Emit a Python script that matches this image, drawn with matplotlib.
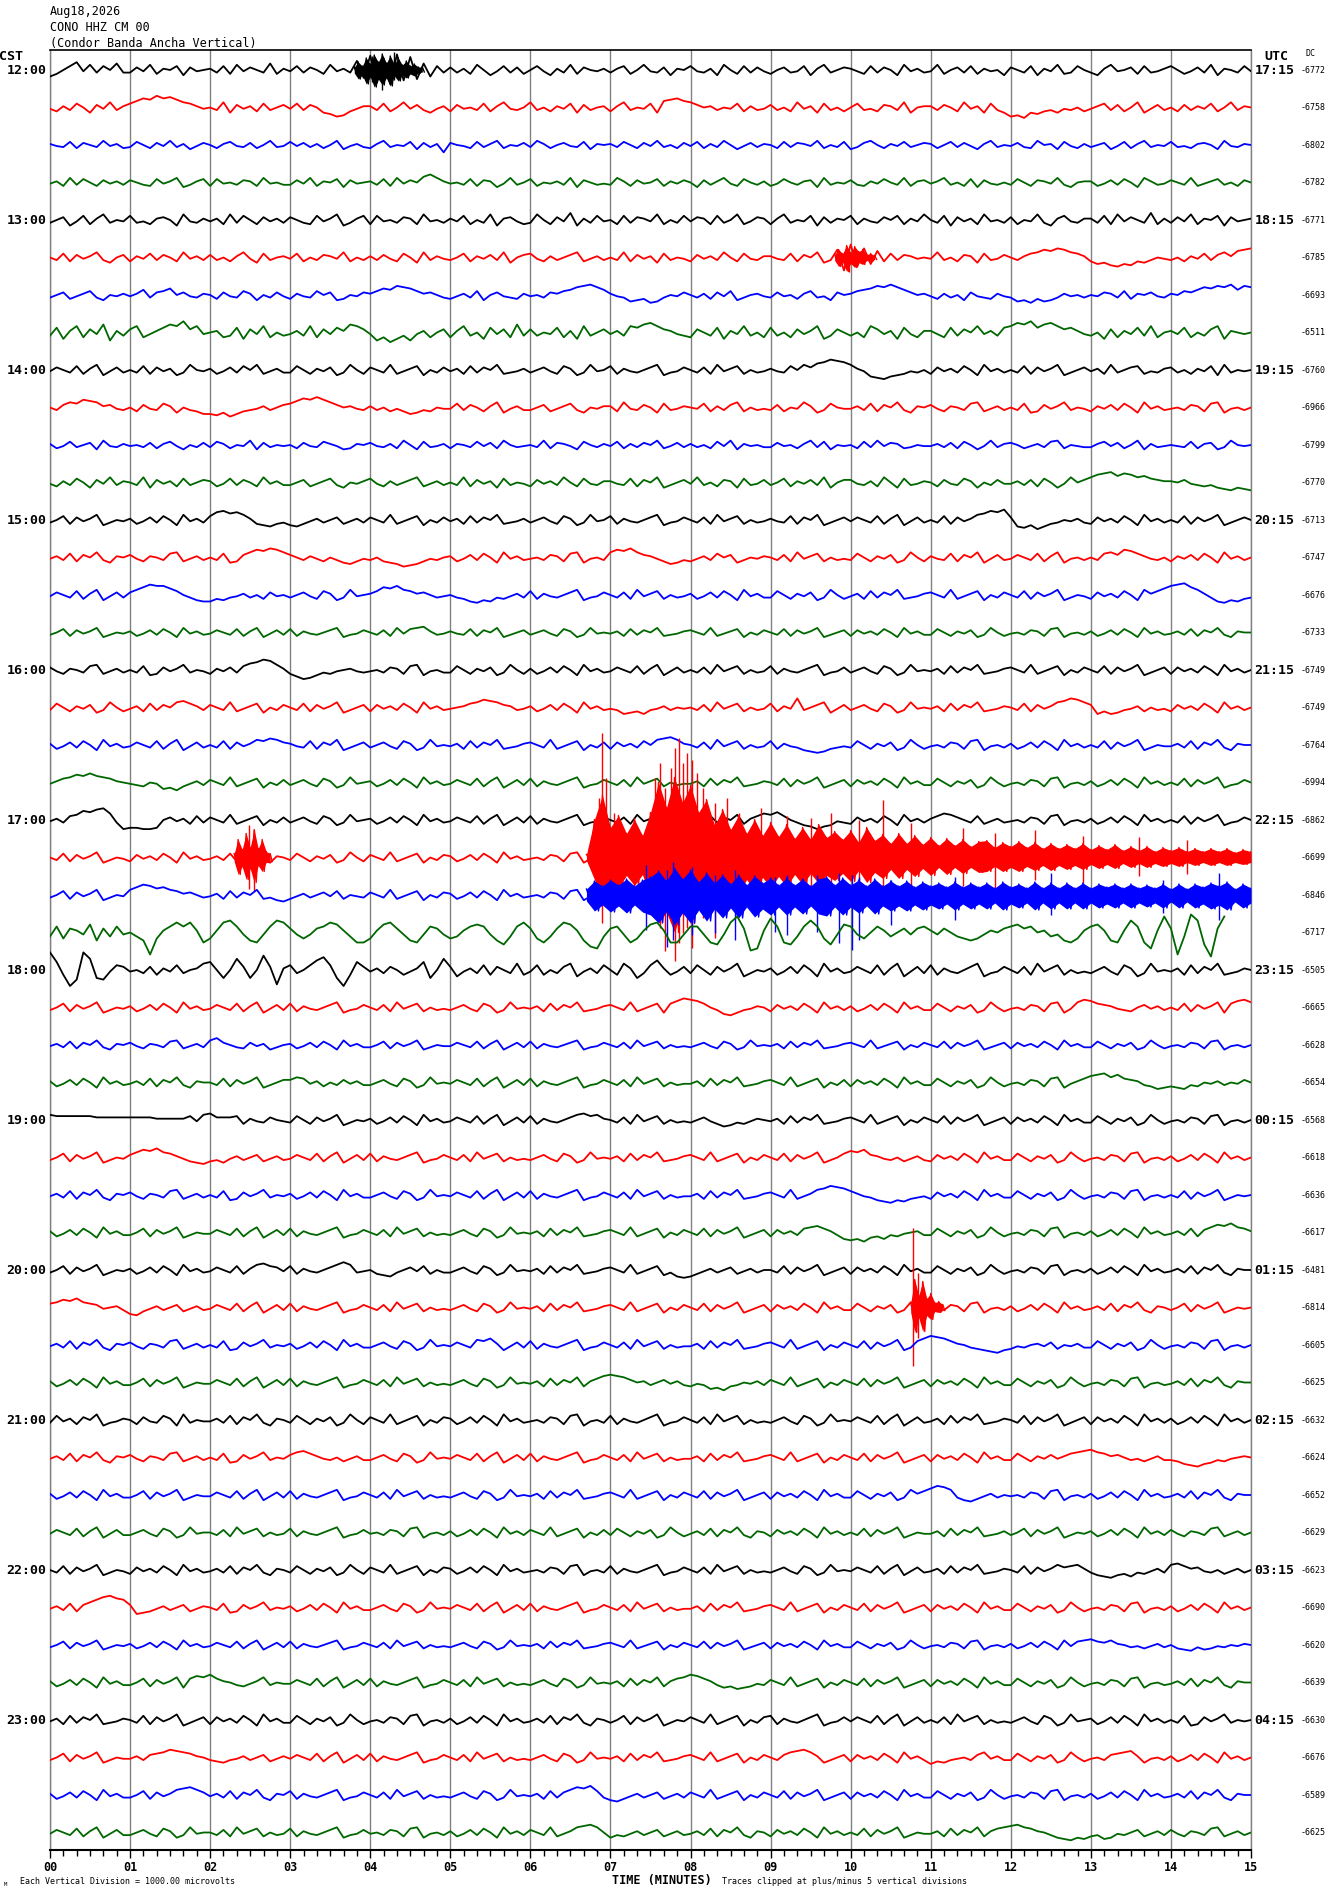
import numpy as np
import matplotlib
matplotlib.use("Agg")
import matplotlib.pyplot as plt
import matplotlib.transforms as mtransforms
from matplotlib.ticker import MultipleLocator

# ---- data ----
HEADER = ["Aug18,2026", "CONO HHZ CM 00", "(Condor Banda Ancha Vertical)"]
CST_LABELS = ["12:00", "13:00", "14:00", "15:00", "16:00", "17:00",
              "18:00", "19:00", "20:00", "21:00", "22:00", "23:00"]
UTC_LABELS = ["17:15", "18:15", "19:15", "20:15", "21:15", "22:15",
              "23:15", "00:15", "01:15", "02:15", "03:15", "04:15"]
DC_VALUES = [-6772, -6758, -6802, -6782, -6771, -6785, -6693, -6511,
             -6760, -6966, -6799, -6770, -6713, -6747, -6676, -6733,
             -6749, -6749, -6764, -6994, -6862, -6699, -6846, -6717,
             -6505, -6665, -6628, -6654, -6568, -6618, -6636, -6617,
             -6481, -6814, -6605, -6625, -6632, -6624, -6652, -6629,
             -6623, -6690, -6620, -6639, -6630, -6676, -6589, -6625]
MINUTES = list(range(16))
TRACE_COLORS = ["#000000", "#ff0000", "#0000ff", "#006600"]

# one letter per 5 s sample, 'm' = baseline, one letter step = TRACE_SCALE px (upward positive)
TRACES = [
    "hjmpslqkpmrk kolqjnmpiolm nkpjqlomkrjn lpkomjqlnktg xcvbyewfrhpk oknjqmilpkoj mplinkqjomln knpjmqlkoinm plkniqmjpkol jmoklpinqkmo nljpkomiqlnk lqjmokpjnlmi omkpinlqjkpm kinqlmojpkln pmjlokqinmkp l",
    "ljnkpmiolqkn prtsvtusqpnl mkqiolnjpkmo lpkomihfgjln nkpjmqlokiln jolmkpjnqlkm qkmjnlpiokmn jnqkmlpirstr qomnkmlpjnkl okmjqlnipkmj mpkljonkqimn nkomjqlnipki fgeihjkilkmj lnpkojmqilok mjoknlpjmqkn m",
    "nlkpjomkqlnj kpmjolqknilo mjnplkojmqkl ploknjmqilnk jnqkmlpioknf omljpknqjmlo kqnjmolkpinm nkpmjolqkmjo lpjnkqmilokn mjpkonlqjmkp ikoqmjnlpkmo njmpkolinqkm lokjqmnipljn kmoilpjnqkml pkljnomiqlkn m",
    "lnjqkpmjolnk omkjplnqiknp jplmkonjqlmk kolqjnmpiolm nkpjqlomrtqn lmkpjonilqkm pjmlnkqiomkl kqnjolmpjnlo mioknqljpmkn jlpmknoiqkml okjnlpmkqjno lnqkmjpiolkm kpmjonlqkimn njlokpmiqnkl omkqjlnpkmjo m",
    "kmoilpjnqkml pkljnomiqlkn lnjqkpmjolnk omkjplnqiknp jplmkonjqlmk nlpjmkqinolj kqmjolrinkpl mjpkonlqjmkp lonjpkmqjlon jnqkmlpioknm pjnlkompjnlq mkpiolnjqlmk ojmlqkinplkn nkpjqlomkrjn kolqjnmpiolm n",
    "mkpjolnqkimo jnlpkomjqlnk okmjnqlipkmn lpjmkonlqjmk nkoljpmiqknl kmpjnlokqimo pljnkmoqjlnk mkqjolnipkml jolnkqmjplkn nlkpjomqiksc wfthrjpkonlm lqkmjonipklo mknpqsrtsqpn jhigfhgjikml kmjnlpkoqnrs t",
    "kmojlnpkimln lnqkoprmolkn mjolkpnimkol jnlkpmoijmlo nprqtsrpnomk jlnkpimolkjn lmkonpqstusq nlkhijghkmlo mknjolpikmnl kolmjnpkliom npqrtsusqomn ljnkmiolkjnl khigjhiknlmk mlonkpjnmolk nmpoqsrtsuqt s",
    "kpinqjolrhnk oqjlnprqtoql mnjkpiolqjmk lnkqjolpnrqo lhjgikhlnjmo jnqkmiplojrk okmlpjniqkmo lnkqprsqonlk jomkpinlqkmj pkmjolnqikom kmjqolnipljn nljpkomqlnkp qsrtprsqopnl kmiojnlpkqjm nlpjmkoqinml m",
    "lomkpjnqilok mkpjolnikqml njlokpmqjlnk kpmjnloikqmj omkqjlnpimko lnjpkomqjkln kmoljpnikqlm pjnlkmoqiklo mkojqlnpjmkl nlkpmqorsuts qnlhgfhijlkm jolnkpmiqlnk mkpjolnqikmo lnjqkmopjlkn okmjnlpiqkml m",
    "mkoqpsrqnolk mjolkpnimkjh hgifhjklnkmo prtsusqomnlk nkmjljhikjml lpkomjnqilnk kmojlnpkimln njqlkomipkln mlpjnkoqjmkl kojmlqnikpml lnkpjomqkinm oljnmkpqjlnk mkpijolnqkml jnlokpmiqlnk lmkonjpqilmk m",
    "njlpkmoiqlkn lmkojnplimko kpnjmlqiokml mjolkpnlijnm olknjqmipkln jnmkplojqmkl mkqjonlipmkn lpjnkomqjlok nkmjplqinlmk kolmjnqkpiml mjpkqlonjkml lnkojpmilqkn omjlnkpqjmlk knplojmqinkl mlkpjnoikqml m",
    "ljnkpmiolqkn mkqiolnjpkmo njlpkomjqlnk kmojlnpkimln pljnkmoqjlnk mkqjolnipkml jolnkqmjplkn nlkpjomqikmo lqkmjonipklo kmpjnlokqimo olknjqmipkln mjolkpnimkol lnkojpmilqmo qsturtsqrpon nmolkjkihgih g",
    "kmpjolnqikml njlokpmiqlnk pstrsqnjihjk ihjlnkmojlnk omkqjlnpimko lnjpkomqjkln kmoljpnikqlm pjnlkmoqiklo mkojqlnpjmkl nlkpjomqikmo lomkpjnqilok mkpjolnqrtsu ohgifhjkmlnk jolnkpmiqlnk mkpjolnqikmo m",
    "lnkpjomqkinm oljnmkpqjlnk mkpijoqsrtsq omknljmkihjl kmjihfghjlkm njlokpmiqlnk lmkonjpqilmk qsrtqonljhik jlnkpmoikmln mkojqlnpjmkl kpmjnloikqmj nlkpjomqilok lomkpjnqilmk mkpqosrpnlkm jnlokpmiqlnk m",
    "lomkpjnqilok oqsuttrpmkih hjiklnkmjolm kmoljpnikqlm npsrtqpnomkl mkjhgihkjlnk pjnlkmoqiklo mkojqlnpjmkl njlokpmiqlnk kpmjnloikqmj lnjpkomqjkln omkqjlnpimko mkpjolnqikml jolnkpmiqnpr tuvsqnkhgihj k",
    "kmpjolnqikml njlokpmiqlnk lomkpjnqilok pjnlkmoqiklo mkojqlpqrnkl nlkpjomqikmo kmoljpnikqlm lnjpkomqjkln omkqjlnpimko mkpjolnqikmo jolnkpmiqlnk kpmjnloikqmj lmkonjpqilmk njlokpmiqlnk lnkpjomqkinm m",
    "oljnmkpqjlnk mkpijolnqkml jnlokprsutqn jhfgikjlmnlk lmkonjpqilmk kpmjnloikqmj njlokpmiqlnk lomkpjnqilok mkojqlnpjmkl pjnlkmoqiklo kmoljpnikqlm lnjpkomqjkln omkqjlnpimko mkpjolnqikmo jolnkpmiqlnk m",
    "kpmjnloikqmj lnjpkomqrpnk omkqjlnpimko mkpjolnqikmo jolnkpmiqlnk lmnpqsrqonkl njlokpmiqlnk lkhijhklnkml mkojqlnpjmkl pjnltkmoqilo kmoljpnikqlm lnjpkomqjkln mkpjolnqrtsq ohjhiklnjmkl jolnkpmiqlnk m",
    "njlokpmiqlnk lomkpjnqilok mkpjolnqprqo nlkpjomqikmo kmoljpnikqlm lnjpkomqjkln omkqjlnpimko jolnkpmqrsqn mkojqlnpjmkl pjnlkihghjkl kpmjnloikqmj lmkonjpqilmk njlokpmiqlnk mkpjolnqikml lnkpjomqkinm m",
    "lnpqsrtrqpnm lkjmlhigjlnk omkqjlnpimko kmoljpnikqlm njlokpmiqlnk lomkpjnqilok pjnlkmoqiklo mkojqlnpjmkl lnjpkomqjkln mkpjolnqikmo jolnkpmiqlnk kpmjnloikqmj lmkonjpqilmk njlokpmiqlnk mkpjolnqiklo m",
    "lnkpqtsuvrkf ggffgmolnjpk omkqjlnpimko kmoljpnikqlm njlokpmiqlnk lomkpjnqilok pjnlkmoqiklo mkojqlnpjmkl lnjpkomqjnpr qspmkihfhilk jolnkpmiqlnk nprqomkpjlnk lmkonjpqilmk njlokpmiqlnk mkpjolnqiklo m",
    "mkpjolnqikml jolnkpmiqlnk lnkpjomqkinm kpmjnloikqmj omkqjlnpimko njlokpmiqlnk lmkonjpqilmk pjnlkmoqiklo mkojqlnpjmkl kmoljpnikqlm lomkpjnqilok lnjpkomqjkln mkpjolnqikmo jolnkpmiqlnk njlokpmiqlnk m",
    "kmpjolnqikml qsutrsqpnomk lnjpkomqjkih jlnkmolpjmlk omkqjlnpimko njlokpmiqlnk lmkonjpqilmk pjnlkmoqiklo mkojqlnpjmkl kmoljpnikqlm lomkpjnqilok lnjpkomqjkln mkpjolnqikmo jolnkpmiqlnk njlokpmiqkjh i",
    "kpjonlqiokpl mkibjnprprnh jnrsplihlpsr oljloprqnkhh jnqrolihlpol jknpqpligkpr ojhkorqnifek oplhjnqrnhhl pplhglruoden tphgkpspjglq pljmpnkmolop nlomkjijlnmo pqopmnklihjn pqnihnsphenu obkvsgaou",
    "xrjcgxthglpo lmkojnlpkmnq rmhmtohmvodn pkmpsuphcjro lnkomjlnrhmt oilnkpjomkqj lpjmkoqilnkp mjqnhkpsnjlo kpmjolnqikml njlokpmiqlnk lomkpjnqilok pjnlkmoqiklo mkojqlnpjmkl kmoljpnikqlm lnjpkomqjkln m",
    "kmpjolnqikml njlokpmiqlnk lomkpjnqilok pjnlkmoqiklo mkojqlnpjmkl kmoljpnikqlm lnjpkomqjkln omkqjlnpiprt srpmkhgiklnm jolnkpmiqlnk njlokpmiqlnk kpmjnloikqmj lmkonjpqilqs rponlkjmolnk mkpjolnqiprs q",
    "lnkpjomqkinm oljnmkpqjlnk qsomkjolnikm njlokpmiqlnk kmpjolnqikml lomkpjnqilok pjnlkmoqiklo mkojqlnpjmkl kmoljpnikqlm lnjpkomqjkln omkqjlnpimko mkpjolnqikmo jolnkpmiqlnk kpmjnloikqmj lmkonjpqilmk m",
    "njlokpmiqlnk lnkpjomqkinm mkpjolnqikmo oqplnjmkolnk kmoljpnikqlm lomkpjnqilok pjnlkmoqiklo mkojqlnpjmkl lnjpkomqjkln omkqjlnpimko jolnkpmiqlnk kpmjnloikqmj lmkonjpqilnp rstqsponkjhi jihkjmlnkmlo m",
    "qppppppooooo oooonnnnnplq rooopjnlkoml kpmjolnqikml njlokpmiqlnk lomkpjnqilok pjnlkmoqrpqn mkojqlnpjmkl kmoljhikjlnm lnjpkomqjkln omkqjlnpimko mkpjolnqikmo jolnkpmiqlnk kpmjnloikqmj lmkonjpqilmk m",
    "kmpjolnqikml oqsrtqpnljih jkilnkmojlnk lomkpjnqilok pjnlkmoqiklo mkojqlnpjmkl kmoljpnikqlm lnjpkomqjkln omkqjlnpimko mkpjolnqikmp rqsonlkmjlnk jolnkpmiqlnk kpmjnloikqmj lmkonjpqilmk njlokpmiqlnk m",
    "lnkpjomqkinm oljnmkpqjlnk mkpijolnqkml njlokpmiqlnk kmoljpnikqlm lomkpjnqilok pjnlkmoqiklo mkojqlnpjmkl lnjpkomqjkln omkqjlnqrtsr pnlkihgihjkl jolnkpmiqlnk kpmjnloikqmj lmkonjpqilmk mkpjolnqikml m",
    "njlokpmiqlnk kmpjolnqikml lomkpjnqilok pjnlkmoqiklo mkojqlnpjmkl kmoljpnikqlm lnjpkomqjkln omkqjlnpimko mkpjolnqikmo jolnkpqrpnkh ghfijhkjlmnk kpmjnloikqmj lmkonjpqilmk njlokpmiqlnk lnkpjoqsrtqp n",
    "kmpjolnqikml njlokpmiqlnk lomkpjnqrpol pjnlkmoqsqkl mjihkmolpjmk kmoljpnikqlm lnjpkomqjkln omkqjlnpikhg hjlnkmojlnkm mkpjolnqikmo jolnkpmiqlnk kpmjnloikqmj lmkonjpqilmk njlokpmiqlnk lnkpjomqkinm m",
    "pqsrtqpolmnk hgjlnkmojlnk lomkpjnqilok pjnlkmoqiklo mkojqlnpjmkl kmoljpnikqlm lnjpkomqjkln omkqjlnpimko mkpjolnqikmo jolnkpmiqlnk kpmjnloikqmj lmkonjpqilmk njlokpmiqlnk lnkpjomqkinm kmpjolnqikml m",
    "lnkpjomqkinm oljnmkpqjlnk mkpijolnqkml njlokpmiqlnk kmoljpnikqlm lomkqprnilok pjnlkmoqiklo mkojqlnpjmkl lnjpkomqjkln omkqjlnpimko mkpjolnqikpr tsrpnmkjihgi jlkmnlojmlnk kpmjnloikqmj lmkonjpqilmk m",
    "njlokpmiqlnk kmpjolnqikml lomkpjnqilok pjnlkmoqiklo mkojqlnpjmkl kmoljpnikqlm lnjpkomqjnpr srqomnkmolnk jlkhigjkmlnk omkqjlnpimko mkpjolnqikmo jolnkpmiqlnk kpmjnloikqmj lmkonjpqilmk lnkpjomqkinm m",
    "kplnjomqikln mjolkpniqkml lnkpjomqkinm kpmjnloikqmj omkqjlnpimko njlokpmiqlnk lmkonjpqilmk pjnlkmoqiklo mkojqlnpjmkl kmoljpnikqlm lomkpjnqilok lnjpkomqjkln mkpjolnqikmo jolnkpmiqlnk njlokpmiqlnk m",
    "lnkpjomqkinm oljnmkpqjlnk mkpijolnqkml oqrpnlkmjlnk kmoljpnikqlm lomkpjnqilok pjnlkmoqiklo mkojqlnpjmkl lnjpkomqjkln omkqjlnpimko mkpjolnqikmo jolnkpmiqlnk kpmjnlolnpqr sqpnomkljlnk kjhgfhikjlmn m",
    "njlokpmiqlnk kmpjolnqikml lomkpjnqilok pjnlkmoqiklo mkojqlnpjmkl kmoljpnikqlm lnjpkomqjkln omkqjlnpimko mkpjolnqikmo jolnkpmiqlnk kpmjnloikqnp rtsqkihjlnkm lmkonjpqilmk njlokpmiqlnk lnkpjomqkinm m",
    "lomkpjnqilok kmoljpnikqlm mkojqlnpjmkl pjnlkmoqiklo lmkonjpqilmk njlokpmiqlnk omkqjlnpimko kpmjnloikqmj lnkpjomqkinm jolnkpmiqlnk mkpjolnqikml lnjpkomqjkln kmpjolnqikml njlokpmiqlnk oljnmkpqjlnk m",
    "mkpjolnqikml jolnkpmiqlnk lnkpjomqkinm kpmjnloikqmj omkqjlnpimko njlokpmiqlnk lmkonjpqilmk pjnlkmoqiklo mkojqlnpjmkl kmoljpnikqlm lomkpjnqilok lnjpkomqjkln mkpjolnqopqn kihgijhkjlnk qrpnolkmjlnk m",
    "lnkpjoqsuvts ohijlnkmojln mkpijolnqkml njlokpmiqlnk kmoljpnikqlm lomkpjnqilok pjnlkmoqiklo mkojqlnpjmkl lnjpkomqjkln omkqjlnpimko mkpjolnqikmo jolnkpmiqlnk kpmjnloikqmj lmkonjpqilmk njlokpmiqlnk m",
    "kmpjolnqikml njlokpmiqlnk lomkpjnqilok pjnlkmoqiklo mkojqlnpjmkl kmoljpnikqlm lnjpkomqjkln omkqjlnpimko mkpjolnqikmo jolnkpmiqlnk kpmjnloikqmj lmkonjpqilmk njlokpmiqlpq rpoqnmkljlnk mjihkijlkmln m",
    "njlokpmiqlnk kmpjolnqiprq spnmkjlnqkml lomkpjnqilok pjnlkmoqiklo mkojqlnpjmkl kmoljpnikqlm lnjpkomqjnpq srpnkijhijlk omkqjlnpimko mkpjolnqikmo jolnkpmiqlnk kpmjnloikqmj lmkonjpqilmk lnkpjomqkinm m",
    "lnjpkomqjkln mkpjolnqikmo jolnkpmiqlnk kpmjnloikqmj lmkonjpqilmk njlokpmiqlnk lnkpjomqkinm kmpjolnqikml omkqjlnpimko pjnlkmoqiklo lomkpjnqilok mkojqlnpjmkl kmoljpnikqlm njlokpmiqlnk mkpijolnqkml m",
    "kmpjolnqikml lnkopqsrqpnm kjiklnkmojln lomkpjnqilok pjnlkmoqiklo mkojqlnpjmkl kmoljpnikqlm lnjpkomqjkln omkqjlnpimko mkoqrsqnikmo jolnkpmiqlnk hjiklmkoqlnk kpmjnloikqmj lmkopqrnilmk njlokpmiqlnk m",
    "njlokpmiqlnk kmpjolnqrsqo lnkpjomqkinm pjnlkmoqiklo mkojqlnpjmkl kmoljpnikqlm lnjpkoqsrtpk ihjlnkmojlnk omkqjlnpimko mkpjolnqikmo jolnkpmiqlnk kpmjnloikqmj lmkonjpqilmk njlokpmiqlnk lnkpjomqkinm m",
    "lomkpjnqilok kmoljpnikqlm mkojqlnpjmkl pjnlkmoqiklo lmkonjpqilmk njlokpmiqlnk omkqjlnqrsqm ikjlnkmojlnk lnkpjomqkinm jolnkpmiqlnk mkpjolnqikml lnjpkomqjnpq rsqpnmkihgih jkhilkmojlnk oljnmkpqjlnk m",
]
TRACE_SCALE = [1.3, 1.3, 1.05, 1.15, 1.4, 1.3, 1.3, 1.6,
               1.3, 1.3, 1.1, 1.3, 1.3, 1.3, 1.3, 1.15,
               1.3, 1.3, 1.3, 1.3, 1.3, 1.3, 1.3, 2.0,
               1.6, 1.3, 1.15, 1.3, 1.3, 1.3, 1.3, 1.3,
               1.3, 1.3, 1.3, 1.3, 1.4, 1.3, 1.3, 1.3,
               1.3, 1.3, 1.15, 1.3, 1.4, 1.3, 1.3, 1.3]

# dense bursts: swing above / below the trace line (px) per step, start minute, step in minutes
ENV_ROW = [0, 5, 21, 21, 22, 33]
ENV_START = [3.8, 9.8, 2.3, 6.7, 6.7, 10.75]
ENV_STEP = [0.05, 0.05, 0.05, 0.1, 0.1, 0.05]
ENV_UP = [
    [3, 8, 4, 12, 6, 15, 8, 16, 7, 14, 6, 12, 5, 9, 4, 6, 3, 3],
    [3, 8, 4, 12, 5, 11, 6, 8, 3, 4, 2],
    [4, 18, 8, 24, 10, 28, 9, 18, 6, 4],
    [3, 38, 62, 30, 42, 24, 38, 22, 45, 75, 50, 80, 55, 72, 45, 58, 32, 48, 28, 42,
     24, 38, 22, 35, 21, 33, 19, 30, 18, 33, 20, 26, 18, 27, 15, 30, 17, 23, 14, 24,
     14, 22, 13, 20, 12, 19, 12, 18, 11, 16, 17, 10, 15, 11, 16, 10, 15, 9, 14, 9,
     13, 9, 14, 8, 12, 8, 13, 7, 11, 7, 11, 6, 10, 7, 10, 6, 9, 6, 9, 6, 9, 5, 8, 6],
    [6, 14, 9, 15, 10, 16, 9, 15, 18, 24, 14, 27, 16, 25, 13, 22, 12, 20, 11, 20,
     10, 19, 12, 17, 10, 17, 10, 16, 9, 16, 18, 10, 17, 10, 15, 9, 16, 9, 14, 9,
     14, 8, 13, 9, 12, 8, 13, 8, 12, 8, 12, 7, 13, 8, 11, 7, 13, 7, 12, 7,
     12, 7, 12, 7, 11, 8, 11, 7, 11, 7, 10, 7, 11, 6, 11, 6, 11, 8, 12, 9, 13, 6, 11, 7],
    [5, 28, 12, 26, 9, 14, 5, 6, 3],
]
ENV_DN = [
    [3, 9, 5, 14, 7, 17, 9, 15, 8, 16, 6, 11, 5, 8, 4, 6, 3, 2],
    [3, 9, 5, 14, 6, 10, 5, 7, 3, 4, 2],
    [4, 17, 9, 22, 11, 25, 8, 14, 5, 4],
    [3, 22, 45, 24, 30, 18, 28, 17, 42, 65, 55, 75, 50, 66, 40, 52, 35, 46, 26, 38,
     22, 33, 20, 30, 19, 29, 17, 27, 16, 26, 18, 23, 16, 24, 13, 25, 15, 21, 12, 21,
     12, 19, 11, 18, 10, 17, 10, 16, 10, 15, 14, 9, 14, 10, 14, 9, 13, 8, 13, 8,
     12, 8, 12, 7, 11, 7, 11, 6, 10, 6, 10, 6, 9, 6, 9, 5, 8, 5, 8, 5, 8, 5, 7, 5],
    [6, 16, 10, 17, 11, 18, 10, 17, 20, 28, 16, 30, 18, 28, 15, 26, 14, 23, 13, 23,
     12, 22, 14, 20, 12, 20, 12, 19, 11, 19, 21, 12, 20, 12, 18, 11, 19, 11, 16, 11,
     16, 10, 15, 10, 14, 9, 15, 9, 14, 9, 14, 8, 15, 9, 13, 8, 15, 8, 14, 8,
     14, 8, 14, 8, 13, 9, 13, 8, 13, 8, 12, 8, 13, 7, 13, 7, 13, 9, 14, 10, 15, 7, 13, 8],
    [5, 25, 10, 24, 8, 12, 4, 5, 3],
]

# single large excursions: row, minute, top px (up), bottom px (down, negative)
SPIKE_ROW = [0, 0, 0, 5, 21, 21,
             21, 21, 21, 21, 21, 21, 21, 21, 21, 21, 21, 21, 21, 21, 21, 21,
             21, 21, 21, 21, 21, 21, 21, 21, 21, 21, 21, 21, 21, 21, 21, 21,
             22, 22, 22, 22, 22, 22, 22, 22, 22, 22, 22, 22, 22, 22, 22, 22, 22,
             33, 33]
SPIKE_T = [4.02, 4.15, 4.3, 9.98, 2.48, 2.55,
           6.86, 6.89, 6.95, 7.05, 7.3, 7.56, 7.62, 7.68, 7.75, 7.8, 7.85, 7.9, 7.95, 8.02, 8.08, 8.15,
           8.3, 8.45, 8.6, 8.88, 9.2, 9.5, 9.75, 10.1, 10.4, 10.75, 11.4, 11.8, 12.3, 12.9, 13.6, 14.2,
           7.45, 7.7, 7.78, 8.02, 8.3, 8.55, 9.05, 9.2, 9.58, 9.85, 10.02, 10.1, 10.5, 11.3, 12.5, 13.9, 14.6,
           10.78, 10.84]
SPIKE_HI = [14, 8, 18, 6, 33, 28,
            60, 125, 80, 45, 40, 80, 95, 70, 90, 110, 120, 95, 105, 98, 85, 70,
            55, 60, 45, 50, 42, 40, 45, 38, 58, 35, 30, 25, 28, 22, 20, 18,
            30, 25, 33, 28, 20, 25, 18, 20, 20, 22, 20, 18, 15, 18, 22, 15, 22,
            80, 35]
SPIKE_LO = [-12, -20, -10, -14, -32, -33,
            -40, -65, -30, -35, -30, -55, -70, -93, -60, -103, -85, -75, -70, -90, -55, -60,
            -80, -45, -50, -35, -40, -38, -30, -35, -30, -40, -28, -30, -22, -25, -18, -16,
            -35, -52, -45, -40, -38, -45, -37, -40, -37, -48, -55, -45, -30, -25, -20, -18, -25,
            -58, -30]

ROW_PX = 37.5          # pixel distance between traces
SAMPLES_PER_MIN = 12
MONO = "DejaVu Sans Mono"

fig = plt.figure(figsize=(13.3, 18.94), dpi=100)
ax = fig.add_axes([50 / 1330, 44 / 1894, 1201 / 1330, 1800 / 1894])

for r, s in enumerate(TRACES):
    s = "".join(s.split())
    vals = np.array([ord(c) - ord("m") for c in s], dtype=float) * TRACE_SCALE[r]
    t = np.arange(len(vals)) / SAMPLES_PER_MIN
    col = TRACE_COLORS[r % 4]
    z = 3 + r * 0.01
    ax.plot(t, r - vals / ROW_PX, color=col, lw=1.3, zorder=z)
    for k, er in enumerate(ENV_ROW):
        if er != r:
            continue
        up = np.array(ENV_UP[k], dtype=float)
        dn = np.array(ENV_DN[k], dtype=float)
        te = ENV_START[k] + np.arange(len(up)) * ENV_STEP[k]
        # solid core of the burst, then the swings drawn as a zigzag over it
        ax.fill_between(te, r - up / ROW_PX, r + dn / ROW_PX, color=col, lw=0, zorder=z)
        xs = np.column_stack([te, te + ENV_STEP[k] / 2]).ravel()
        ys = np.column_stack([r - up / ROW_PX, r + dn / ROW_PX]).ravel()
        ax.plot(xs, ys, color=col, lw=1.0, zorder=z)
    for k, sr in enumerate(SPIKE_ROW):
        if sr != r:
            continue
        ax.vlines(SPIKE_T[k], r - SPIKE_HI[k] / ROW_PX, r - SPIKE_LO[k] / ROW_PX,
                  color=col, lw=1.0, zorder=z)

ax.set_xlim(0, 15)
ax.set_ylim(47 + 17.5 / ROW_PX, -20 / ROW_PX)
ax.set_xticks(MINUTES)
ax.set_xticklabels(["%02d" % m for m in MINUTES], fontsize=8.5, fontweight="bold", family=MONO)
ax.xaxis.set_minor_locator(MultipleLocator(1 / 6))
ax.tick_params(axis="x", which="major", direction="out", length=6, width=1.0, pad=2)
ax.tick_params(axis="x", which="minor", direction="out", length=4.5, width=1.0)
ax.set_yticks([])
ax.grid(axis="x", which="major", color="#808080", lw=1.0, zorder=1)
ax.set_axisbelow(True)
for side in ["left", "right"]:
    ax.spines[side].set_color("#808080")
    ax.spines[side].set_linewidth(1.0)
ax.spines["top"].set_color("black")
ax.spines["top"].set_linewidth(1.2)
ax.spines["bottom"].set_color("black")
ax.spines["bottom"].set_linewidth(1.5)

trans = mtransforms.blended_transform_factory(ax.transAxes, ax.transData)
for i, lab in enumerate(CST_LABELS):
    ax.text(-0.003, 4 * i, lab, transform=trans, ha="right", va="center",
            fontsize=9.5, fontweight="bold", family=MONO)
for i, lab in enumerate(UTC_LABELS):
    ax.text(1.003, 4 * i, lab, transform=trans, ha="left", va="center",
            fontsize=9.5, fontweight="bold", family=MONO)
for i, dc in enumerate(DC_VALUES):
    ax.text(1.0416, i, str(dc), transform=trans, ha="left", va="center",
            fontsize=6, family=MONO)

for k, line in enumerate(HEADER):
    fig.text(50 / 1330, 1 - (12 + 15.5 * k) / 1894, line, ha="left", va="center",
             fontsize=8.5, family=MONO)
fig.text(11 / 1330, 1 - 57 / 1894, "CST", ha="center", va="center",
         fontsize=9.5, fontweight="bold", family=MONO)
fig.text(1276 / 1330, 1 - 57 / 1894, "UTC", ha="center", va="center",
         fontsize=9.5, fontweight="bold", family=MONO)
fig.text(1311 / 1330, 1 - 54 / 1894, "DC", ha="center", va="center",
         fontsize=6, family=MONO)
fig.text(662 / 1330, 1 - 1880 / 1894, "TIME (MINUTES)", ha="center", va="center",
         fontsize=8.5, fontweight="bold", family=MONO)
fig.text(20 / 1330, 1 - 1881 / 1894, "Each Vertical Division = 1000.00 microvolts",
         ha="left", va="center", fontsize=6, family=MONO)
fig.text(722 / 1330, 1 - 1881 / 1894, "Traces clipped at plus/minus 5 vertical divisions",
         ha="left", va="center", fontsize=6, family=MONO)
fig.text(4 / 1330, 1 - 1884 / 1894, "M", ha="left", va="center", fontsize=4, family=MONO)

fig.savefig("out.png", dpi=100)
